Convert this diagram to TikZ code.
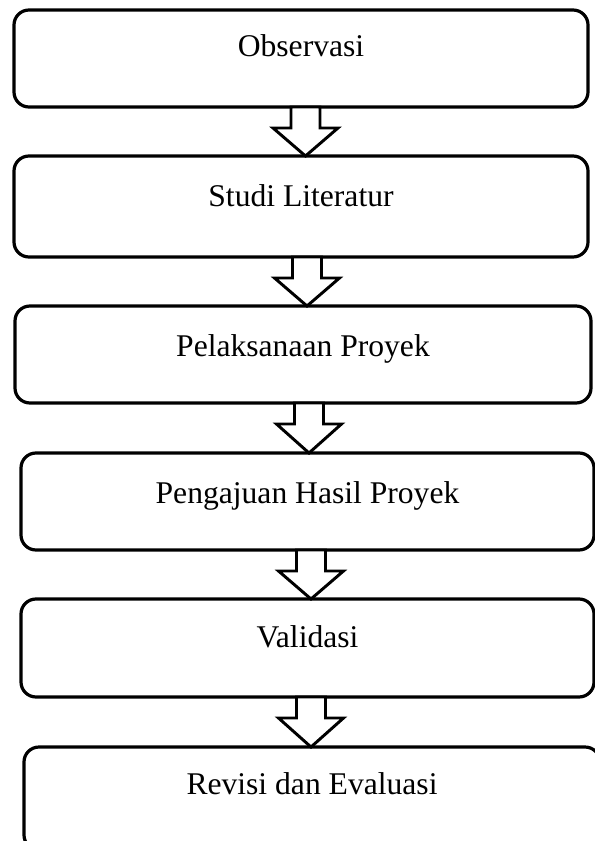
\documentclass[tikz,border=0pt]{standalone}
\usepackage{fontspec}
\setmainfont{Liberation Serif}
\usetikzlibrary{calc}
\begin{document}
\begin{tikzpicture}[x=0.75pt, y=-0.75pt,
  stage/.style={draw, line width=2.4pt, rounded corners=11.25pt, inner sep=0pt, outer sep=0pt,
    anchor=north west, font=\fontsize{23.7}{28}\selectfont},
  blockarrow/.style={draw, fill=white, line width=2.2pt, line join=miter}]

  \useasboundingbox (0,0) rectangle (594,841);

  %draw boxes
    \foreach \name/\lx/\ty/\rx/\by/\bl/\txt in {obs/14/10/588/107/47/Observasi, lit/14/156/588/257/51/Studi Literatur,
      plk/15/306/591/403/50/Pelaksanaan Proyek, aju/21/453/594/550/50/Pengajuan Hasil Proyek,
      val/21/599/594/697/48/Validasi, rev/24/747/600/850/47/Revisi dan Evaluasi}{
         \pgfmathsetmacro\bw{(\rx-\lx)*0.75}
         \pgfmathsetmacro\bh{\bl*0.75}
         \pgfmathsetmacro\bd{(\by-\ty-\bl)*0.75}
         \node[stage, minimum width=\bw pt, text height=\bh pt, text depth=\bd pt] (\name) at (\lx,\ty) {\txt};
    }

  %draw arrows
  \def\sw{14.5};
  \def\hw{32.5};
  \def\sh{21};
    \foreach \up/\down/\topx/\tipx in {obs/lit/4.5/4.5, lit/plk/6/4, plk/aju/6/1.5, aju/val/3.5/3.5, val/rev/3.5/-1}{
         \draw[blockarrow] ($(\up.south)+(\topx-\sw,0)$) -- ++(0,\sh) -- ++(\sw-\hw,0)
           -- ($(\down.north)+(\tipx,0)$) -- ($(\up.south)+(\topx+\hw,\sh)$) -- ++(\sw-\hw,0) -- ++(0,-\sh) -- cycle;
    }

\end{tikzpicture}
\end{document}
